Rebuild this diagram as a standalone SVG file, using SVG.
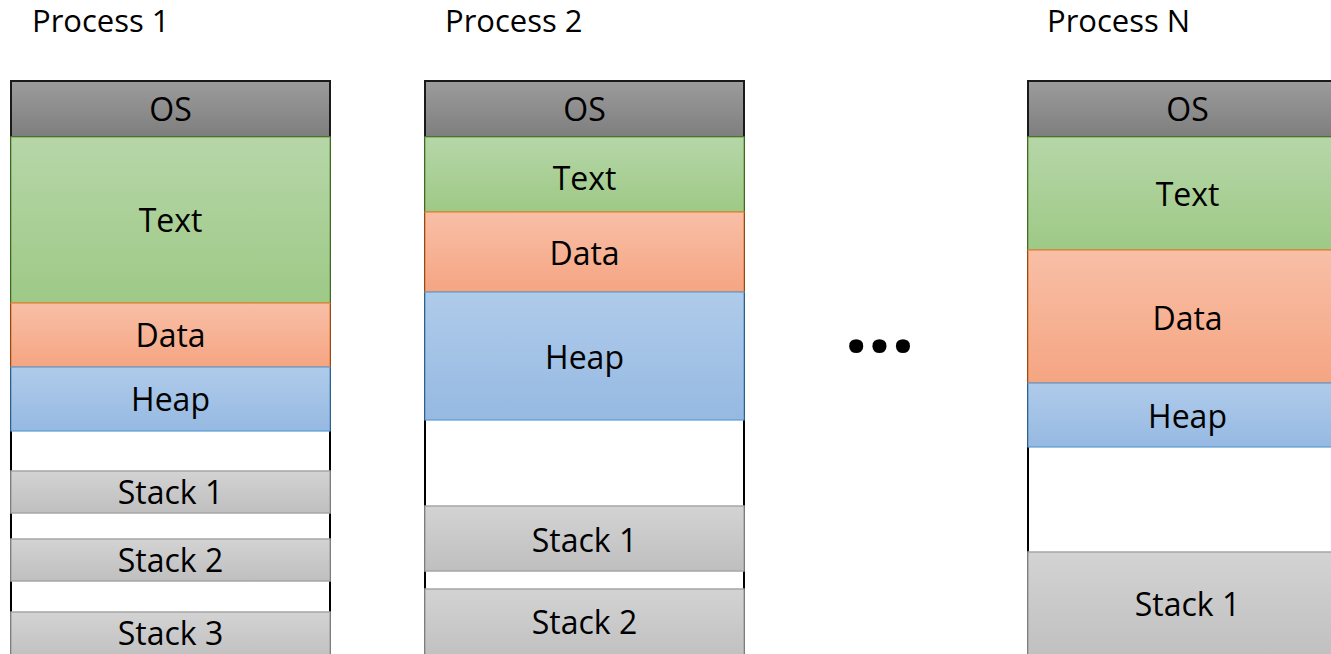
<svg xmlns="http://www.w3.org/2000/svg" width="1331" height="654" viewBox="0 0 1331 654">
<defs>
<linearGradient id="gOS" x1="0" y1="0" x2="0" y2="1"><stop offset="0" stop-color="#9c9c9c"/><stop offset="1" stop-color="#7e7e7e"/></linearGradient>
<linearGradient id="gText" x1="0" y1="0" x2="0" y2="1"><stop offset="0" stop-color="#b6d6a8"/><stop offset="1" stop-color="#9ec986"/></linearGradient>
<linearGradient id="gData" x1="0" y1="0" x2="0" y2="1"><stop offset="0" stop-color="#f8bfa7"/><stop offset="1" stop-color="#f5a582"/></linearGradient>
<linearGradient id="gHeap" x1="0" y1="0" x2="0" y2="1"><stop offset="0" stop-color="#afcbea"/><stop offset="1" stop-color="#96b9e2"/></linearGradient>
<linearGradient id="gStack" x1="0" y1="0" x2="0" y2="1"><stop offset="0" stop-color="#d3d3d3"/><stop offset="1" stop-color="#bfbfbf"/></linearGradient>
</defs>
<style>
text{font-family:"Open Sans","Liberation Sans",sans-serif;fill:#000;}
.title{font-size:31px;}
.lbl{font-size:32px;text-anchor:middle;}
.frame{fill:#fff;stroke:#000;stroke-width:2;}
.os{fill:url(#gOS);stroke:#1a1a1a;stroke-width:2;}
.tx{fill:url(#gText);stroke:#6fa94a;stroke-width:1.2;}
.da{fill:url(#gData);stroke:#ed7d31;stroke-width:1.2;}
.hp{fill:url(#gHeap);stroke:#5b9bd5;stroke-width:1.2;}
.st{fill:url(#gStack);stroke:#a6a6a6;stroke-width:1.5;}
.dots{font-size:82px;font-weight:bold;text-anchor:middle;}
</style>
<rect width="1331" height="654" fill="#fff"/>

<g id="process1">
<text class="title" x="32" y="32">Process 1</text>
<rect class="frame" x="11" y="81" width="319" height="580"/>
<rect class="os" x="11" y="81" width="319" height="56"/>
<text class="lbl" x="170.5" y="121">OS</text>
<rect class="tx" x="11" y="137" width="319" height="166"/>
<text class="lbl" x="170.5" y="232">Text</text>
<rect class="da" x="11" y="303" width="319" height="64"/>
<text class="lbl" x="170.5" y="347">Data</text>
<rect class="hp" x="11" y="367" width="319" height="64"/>
<text class="lbl" x="170.5" y="411">Heap</text>
<rect class="st" x="11" y="471" width="319" height="42"/>
<text class="lbl" x="170.5" y="504">Stack 1</text>
<rect class="st" x="11" y="539" width="319" height="42"/>
<text class="lbl" x="170.5" y="572">Stack 2</text>
<rect class="st" x="11" y="612" width="319" height="50"/>
<text class="lbl" x="170.5" y="645">Stack 3</text>
</g>

<g id="process2">
<text class="title" x="445" y="32">Process 2</text>
<rect class="frame" x="425" y="81" width="319" height="580"/>
<rect class="os" x="425" y="81" width="319" height="56"/>
<text class="lbl" x="584.5" y="121">OS</text>
<rect class="tx" x="425" y="137" width="319" height="75"/>
<text class="lbl" x="584.5" y="190">Text</text>
<rect class="da" x="425" y="212" width="319" height="80"/>
<text class="lbl" x="584.5" y="265">Data</text>
<rect class="hp" x="425" y="292" width="319" height="128"/>
<text class="lbl" x="584.5" y="369">Heap</text>
<rect class="st" x="425" y="506" width="319" height="65"/>
<text class="lbl" x="584.5" y="552">Stack 1</text>
<rect class="st" x="425" y="589" width="319" height="73"/>
<text class="lbl" x="584.5" y="634">Stack 2</text>
</g>

<g id="ellipsis">
<text class="dots" x="879.5" y="352">...</text>
</g>

<g id="processN">
<text class="title" x="1047" y="32">Process N</text>
<rect class="frame" x="1028" y="81" width="319" height="580"/>
<rect class="os" x="1028" y="81" width="319" height="56"/>
<text class="lbl" x="1187.5" y="121">OS</text>
<rect class="tx" x="1028" y="137" width="319" height="113"/>
<text class="lbl" x="1187.5" y="206">Text</text>
<rect class="da" x="1028" y="250" width="319" height="133"/>
<text class="lbl" x="1187.5" y="330">Data</text>
<rect class="hp" x="1028" y="383" width="319" height="64"/>
<text class="lbl" x="1187.5" y="428">Heap</text>
<rect class="st" x="1028" y="552" width="319" height="110"/>
<text class="lbl" x="1187.5" y="616">Stack 1</text>
</g>

<g id="connectors"></g>
</svg>
